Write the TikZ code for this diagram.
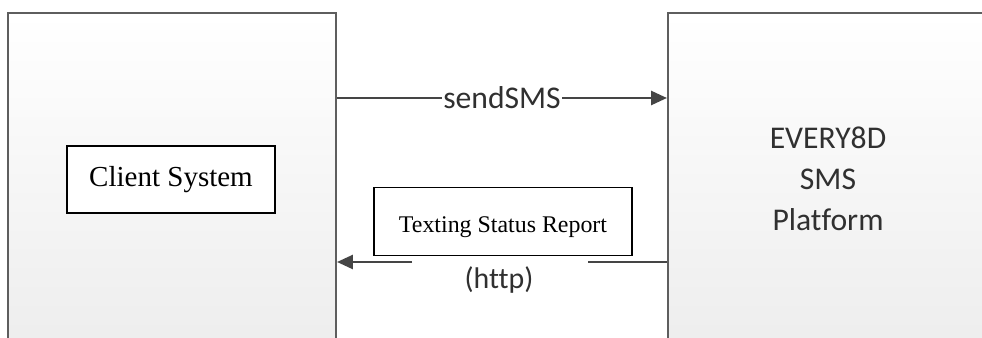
\documentclass[tikz,border=0pt]{standalone}
\usepackage{fontspec}
\setmainfont{Liberation Serif}
\newfontfamily\calib[Ligatures=NoCommon]{Carlito}
\usetikzlibrary{arrows.meta,positioning}
\definecolor{edgegray}{HTML}{5E5E5E}
\definecolor{arrowgray}{HTML}{454545}
\definecolor{textgray}{HTML}{303030}
\tikzset{
  bigbox/.style={draw=edgegray, line width=1.2pt, top color=white, bottom color=black!7},
  namebox/.style={draw=black, line width=0.6pt, fill=white, font=\fontsize{16.5}{20}\selectfont},
  conn/.style={draw=arrowgray, line width=1.2pt},
  connarrow/.style={conn, -{Triangle[length=9pt,width=8pt]}},
  msg/.style={text=textgray, font=\calib\fontsize{18}{22}\selectfont}
}
\begin{document}
\begin{tikzpicture}
  \useasboundingbox (0,0) rectangle (19.64,-6.76);
  \clip (0,0) rectangle (19.64,-6.76);
  \pgfmathsetmacro{\boxw}{6.56}
  \pgfmathsetmacro{\boxh}{6.74}
  % 兩個系統方塊
  \node[bigbox, minimum width=\boxw cm, minimum height=\boxh cm] (client) at (3.44,-3.63) {};
  \node[bigbox, minimum width=\boxw cm, minimum height=\boxh cm] (platform) at (16.64,-3.63) {};

  \node[namebox, minimum width=4.16cm, minimum height=1.34cm] (clientname) at (3.42,-3.59) {Client System};
  \node[msg, align=center, font=\calib\fontsize{18}{23.5}\selectfont] (platformname) at (16.56,-3.58) {EVERY8D\\SMS\\Platform};

  % 連線
  \coordinate (sendL) at (client.east |- 0,-1.96);
  \coordinate (sendR) at (platform.west |- 0,-1.96);
  \draw[connarrow] (sendL) -- node[msg, fill=white, inner xsep=1pt, inner ysep=0pt] (sendlbl) {sendSMS} (sendR);

  \coordinate (backR) at (platform.west |- 0,-5.24);
  \coordinate (backL) at (client.east |- 0,-5.24);
  \coordinate (gapR) at (11.76,-5.24);
  \coordinate (gapL) at (8.24,-5.24);
  \draw[conn] (backR) -- (gapR);
  \draw[connarrow] (gapL) -- (backL);
  \node[msg, font=\calib\fontsize{17}{20}\selectfont] (httplbl) at (9.98,-5.6) {(http)};

  \node[namebox, font=\fontsize{13.6}{16}\selectfont, minimum width=5.16cm, text height=21.5pt, text depth=9pt, inner ysep=4pt, anchor=south] (report) at (10.06,-5.12) {Texting Status Report};
\end{tikzpicture}
\end{document}
